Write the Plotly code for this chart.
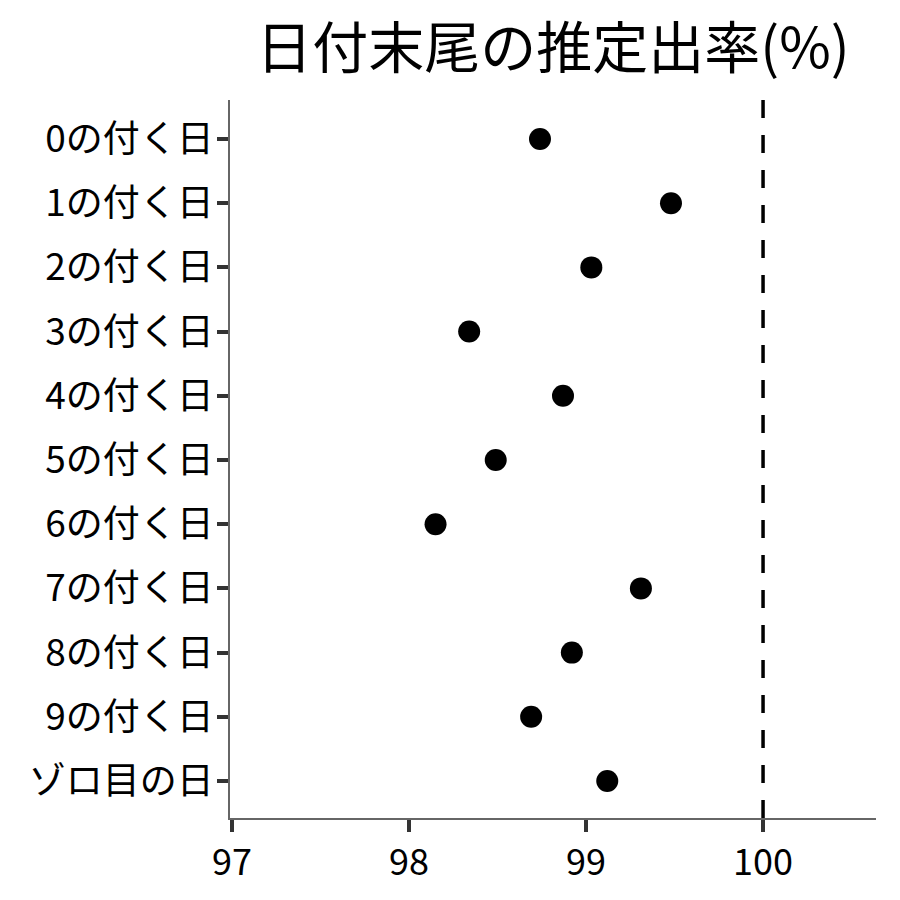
import plotly.graph_objects as go

categories = ["0の付く日", "1の付く日", "2の付く日", "3の付く日", "4の付く日",
              "5の付く日", "6の付く日", "7の付く日", "8の付く日", "9の付く日", "ゾロ目の日"]
rates = [98.74, 99.48, 99.03, 98.34, 98.87, 98.49, 98.15, 99.31, 98.92, 98.69, 99.12]
x_ticks = [97, 98, 99, 100]
reference_rate = 100

FONT = "Noto Sans CJK JP"

fig = go.Figure()
fig.add_trace(go.Scatter(
    x=rates, y=categories, mode="markers",
    marker=dict(color="black", size=22),
    showlegend=False, cliponaxis=False,
))
fig.add_shape(type="line", xref="x", yref="paper",
              x0=reference_rate, x1=reference_rate, y0=0, y1=1,
              line=dict(color="black", width=3.5, dash="18px,17px"))

fig.update_layout(
    width=900, height=900,
    margin=dict(l=222, r=32, t=92, b=90),
    paper_bgcolor="white", plot_bgcolor="white",
    title=dict(text="日付末尾の推定出率(%)", x=0.5, xref="paper", y=0.955, yref="container",
               yanchor="middle", font=dict(family=FONT, size=56, color="black")),
    font=dict(family=FONT, color="black"),
)
fig.update_xaxes(
    range=[96.989, 100.638], tickvals=x_ticks, showgrid=False, zeroline=False,
    showline=True, linecolor="#666666", linewidth=1.5,
    ticks="outside", ticklen=12, tickwidth=3.5, tickcolor="#333333",
    tickfont=dict(family=FONT, size=36, color="black"),
)
fig.update_yaxes(
    type="category", categoryorder="array", categoryarray=categories,
    range=[10.576, -0.607], showgrid=False, zeroline=False,
    showline=True, linecolor="#666666", linewidth=1.5,
    ticks="outside", ticklen=11, tickwidth=3.5, tickcolor="#333333",
    tickfont=dict(family=FONT, size=37, color="black"), ticklabelstandoff=-4,
)

fig.write_html("out.html")
